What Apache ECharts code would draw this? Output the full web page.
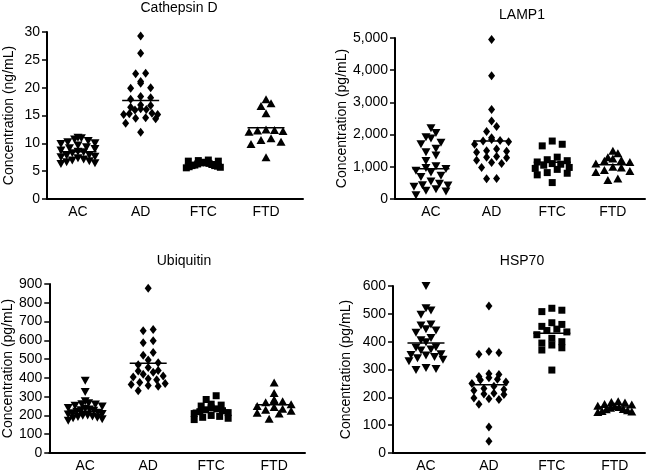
<!DOCTYPE html>
<html><head><meta charset="utf-8">
<script src="https://cdn.jsdelivr.net/npm/echarts@6/dist/echarts.min.js"></script>
<style>html,body{margin:0;padding:0;background:#fff}#c{width:649px;height:475px}</style>
</head><body><div id="c"></div>
<script>
// ---------- DATA ----------
const categories = ['AC', 'AD', 'FTC', 'FTD'];
const panelTitles = ['Cathepsin D', 'LAMP1', 'Ubiquitin', 'HSP70'];
const yAxisNames = ['Concentration (ng/mL)', 'Concentration (pg/mL)', 'Concentration (pg/mL)', 'Concentration (pg/mL)'];

const cathepsinTicks = [0, 5, 10, 15, 20, 25, 30];
const lamp1Ticks = [0, 1000, 2000, 3000, 4000, 5000];
const ubiquitinTicks = [0, 100, 200, 300, 400, 500, 600, 700, 800, 900];
const hsp70Ticks = [0, 100, 200, 300, 400, 500, 600];

const cathepsinAC = [11.0, 10.9, 10.7, 10.4, 10.2, 10.0, 9.9, 9.6, 9.3, 9.1, 9.0, 8.7, 8.5, 8.4, 8.2, 7.9, 7.8, 7.6, 7.3, 7.1, 6.9, 6.8, 6.6, 6.4, 6.3, 7.5];
const cathepsinAD = [29.3, 26.2, 22.6, 22.5, 21.1, 20.8, 20.0, 19.9, 18.4, 18.2, 17.9, 16.9, 16.8, 16.5, 16.2, 16.1, 16.0, 15.4, 15.3, 15.2, 15.2, 14.6, 14.5, 14.4, 13.6, 12.0];
const cathepsinFTC = [7.0, 6.9, 6.8, 6.8, 6.6, 6.5, 6.5, 6.4, 6.3, 6.2, 6.1, 6.0, 6.0, 5.9, 5.8, 5.7, 5.6];
const cathepsinFTD = [17.9, 17.2, 16.7, 15.4, 12.5, 12.3, 12.2, 12.4, 12.1, 10.9, 10.6, 10.3, 9.9, 7.5];
const cathepsinMeans = [8.5, 17.7, 6.3, 12.8];

const lamp1AC = [2200, 2050, 1920, 1880, 1750, 1700, 1560, 1450, 1350, 1180, 1020, 960, 930, 880, 820, 720, 680, 540, 470, 430, 420, 380, 300, 260, 230, 120];
const lamp1AD = [4950, 3830, 2780, 2420, 2250, 2100, 1900, 1850, 1820, 1800, 1780, 1700, 1550, 1500, 1480, 1450, 1320, 1300, 1280, 1200, 1130, 1100, 980, 640, 630];
const lamp1FTC = [1800, 1700, 1650, 1300, 1220, 1190, 1150, 1100, 1080, 1050, 980, 950, 920, 820, 800, 750, 510];
const lamp1FTD = [1500, 1420, 1300, 1260, 1210, 1190, 1150, 1100, 1000, 980, 900, 870, 840, 640, 590];
const lamp1Means = [940, 1800, 1140, 1060];

const ubiquitinAC = [385, 325, 275, 265, 260, 258, 252, 248, 240, 235, 232, 228, 225, 220, 215, 212, 208, 205, 200, 198, 195, 192, 188, 185, 180, 172];
const ubiquitinAD = [877, 658, 651, 598, 587, 535, 520, 495, 480, 470, 455, 440, 437, 430, 420, 410, 405, 395, 390, 375, 370, 365, 360, 355, 332];
const ubiquitinFTC = [305, 285, 260, 255, 250, 240, 235, 230, 225, 220, 215, 210, 200, 195, 190, 185, 178];
const ubiquitinFTD = [375, 320, 285, 280, 275, 270, 260, 250, 245, 235, 230, 225, 215, 210, 183];
const ubiquitinMeans = [222, 478, 228, 257];

const hsp70AC = [600, 520, 512, 497, 462, 458, 445, 440, 432, 413, 405, 398, 380, 378, 372, 368, 355, 352, 350, 345, 340, 335, 330, 305, 302, 298];
const hsp70AD = [528, 365, 360, 355, 285, 282, 275, 270, 265, 262, 255, 250, 240, 232, 228, 225, 215, 212, 210, 198, 195, 192, 175, 93, 42];
const hsp70FTC = [520, 513, 508, 468, 462, 455, 445, 440, 435, 425, 412, 400, 395, 388, 378, 370, 298];
const hsp70FTD = [186, 183, 181, 176, 174, 170, 168, 165, 163, 158, 157, 154, 151, 149, 147];
const hsp70Means = [395, 245, 430, 165];

// ---------- ASSEMBLY ----------
const panels = [
  { ticks: cathepsinTicks, groups: [cathepsinAC, cathepsinAD, cathepsinFTC, cathepsinFTD], means: cathepsinMeans, comma: false },
  { ticks: lamp1Ticks, groups: [lamp1AC, lamp1AD, lamp1FTC, lamp1FTD], means: lamp1Means, comma: true },
  { ticks: ubiquitinTicks, groups: [ubiquitinAC, ubiquitinAD, ubiquitinFTC, ubiquitinFTD], means: ubiquitinMeans, comma: false },
  { ticks: hsp70Ticks, groups: [hsp70AC, hsp70AD, hsp70FTC, hsp70FTD], means: hsp70Means, comma: false }
];

// layout (pixels)
const layouts = [
  { left: 47, top: 32, width: 256, height: 167, xMin: -0.494, xMax: 3.59, nameGap: 31, titleX: 179, titleY: 8 },
  { left: 395, top: 38, width: 250, height: 161, xMin: -0.593, xMax: 3.53, nameGap: 44, titleX: 522, titleY: 15 },
  { left: 49, top: 284, width: 256, height: 169, xMin: -0.571, xMax: 3.49, nameGap: 33, titleX: 184, titleY: 261 },
  { left: 393, top: 286, width: 252, height: 167, xMin: -0.524, xMax: 3.48, nameGap: 40, titleX: 522, titleY: 261 }
];

const FONT = '"Liberation Sans", Arial, Helvetica, sans-serif';
const groupStyles = [
  { symbol: 'triangle', rotate: 180, size: [9, 8] },
  { symbol: 'diamond', rotate: 0, size: [7, 9] },
  { symbol: 'rect', rotate: 0, size: [7, 7] },
  { symbol: 'triangle', rotate: 0, size: [9, 8] }
];

// Column-scatter (beeswarm) layout: bins points by value, spreads each bin horizontally (px)
function swarmOffsets(values, pxPerUnit, binH, step, maxHalf) {
  const idx = values.map((v, i) => i).sort((a, b) => values[a] - values[b]);
  const offs = new Array(values.length).fill(0);
  let bin = [];
  const flush = () => {
    const n = bin.length;
    const st = n > 1 ? Math.min(step, 2 * maxHalf / (n - 1)) : 0;
    const order = [];
    let lo = 0, hi = n - 1, t = 0;
    while (lo <= hi) { order.push(t % 2 === 0 ? lo++ : hi--); t++; }
    bin.forEach((k, j) => { offs[k] = (order[j] - (n - 1) / 2) * st; });
    bin = [];
  };
  idx.forEach(k => {
    if (bin.length && (values[k] - values[bin[0]]) * pxPerUnit > binH) flush();
    bin.push(k);
  });
  flush();
  return offs;
}

const grid = [], xAxis = [], yAxis = [], series = [], graphic = [];
panels.forEach((P, p) => {
  const L = layouts[p];
  const yMin = P.ticks[0], yMax = P.ticks[P.ticks.length - 1];
  const pxPerUnit = L.height / (yMax - yMin);
  const unitsPerPx = (L.xMax - L.xMin) / L.width;
  grid.push({ left: L.left, top: L.top, width: L.width, height: L.height });
  xAxis.push({
    type: 'value', gridIndex: p, min: L.xMin, max: L.xMax,
    axisLine: { show: true, onZero: false, lineStyle: { color: '#000', width: 2 } },
    axisTick: { show: false }, splitLine: { show: false },
    axisLabel: { customValues: [0, 1, 2, 3], formatter: v => categories[Math.round(v)], color: '#000', fontSize: 14, fontFamily: FONT, margin: 6 }
  });
  yAxis.push({
    type: 'value', gridIndex: p, min: yMin, max: yMax, interval: P.ticks[1] - P.ticks[0],
    name: yAxisNames[p], nameLocation: 'middle', nameGap: L.nameGap,
    nameTextStyle: { color: '#000', fontSize: 14, fontFamily: FONT },
    axisLine: { show: true, onZero: false, lineStyle: { color: '#000', width: 2 } },
    axisTick: { show: true, length: 5, lineStyle: { color: '#000', width: 1.5 } },
    splitLine: { show: false },
    axisLabel: {
      color: '#000', fontSize: 14, fontFamily: FONT, margin: 7,
      formatter: v => P.comma ? String(v).replace(/\B(?=(\d{3})+(?!\d))/g, ',') : String(v)
    }
  });
  P.groups.forEach((vals, g) => {
    const offs = swarmOffsets(vals, pxPerUnit, 6, 10, 17);
    const st = groupStyles[g];
    series.push({
      type: 'scatter', xAxisIndex: p, yAxisIndex: p,
      symbol: st.symbol, symbolRotate: st.rotate, symbolSize: st.size,
      itemStyle: { color: '#000', opacity: 1 },
      data: vals.map((v, i) => [g + offs[i] * unitsPerPx, v]),
      silent: true, animation: false, z: 2
    });
  });
  series.push({
    type: 'custom', xAxisIndex: p, yAxisIndex: p, silent: true, animation: false, z: 3,
    data: P.means.map((m, g) => [g, m]),
    renderItem: (params, api) => {
      const c = api.coord([api.value(0), api.value(1)]);
      return { type: 'line', shape: { x1: c[0] - 18.5, y1: c[1], x2: c[0] + 18.5, y2: c[1] },
               style: { stroke: '#000', lineWidth: 1.5 } };
    }
  });
  graphic.push({
    type: 'text', x: L.titleX, y: L.titleY,
    style: { text: panelTitles[p], fill: '#000', font: '14px ' + FONT, align: 'center', verticalAlign: 'middle', textAlign: 'center', textVerticalAlign: 'middle' }
  });
});

const chart = echarts.init(document.getElementById('c'), null, { renderer: 'canvas' });
chart.setOption({ backgroundColor: '#fff', animation: false, grid, xAxis, yAxis, series, graphic });
</script>
</body></html>
